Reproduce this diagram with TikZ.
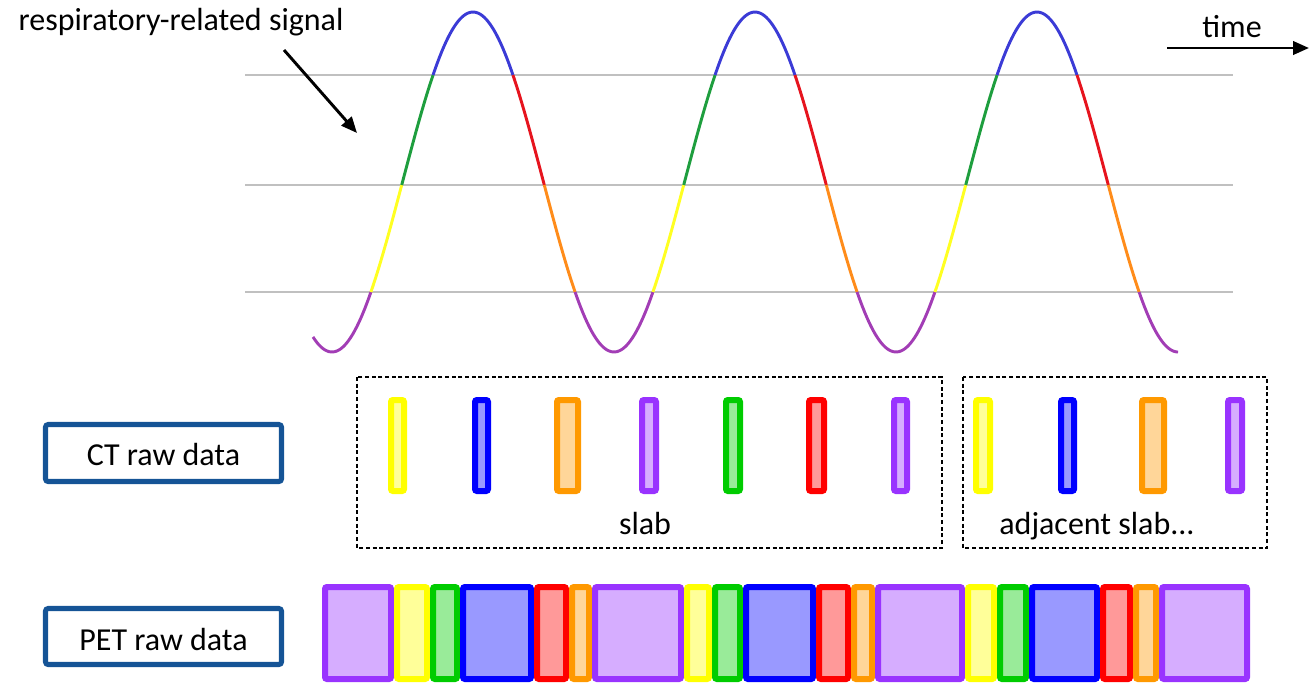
\documentclass[tikz,border=0pt]{standalone}
\usepackage{fontspec}
\setmainfont{Carlito}
\usetikzlibrary{arrows.meta}
\definecolor{Spu}{HTML}{9933FF}\definecolor{Fpu}{HTML}{D6ADFF}
\definecolor{Sye}{HTML}{FFFF00}\definecolor{Fye}{HTML}{FFFF99}
\definecolor{Sgr}{HTML}{00CC00}\definecolor{Fgr}{HTML}{99EB99}
\definecolor{Sbl}{HTML}{0000FF}\definecolor{Fbl}{HTML}{9999FF}
\definecolor{Sre}{HTML}{FF0000}\definecolor{Fre}{HTML}{FF9999}
\definecolor{Sor}{HTML}{FF9900}\definecolor{For}{HTML}{FFD699}
\definecolor{Cbl}{HTML}{3B3BD6}
\definecolor{Cgr}{HTML}{1E9E3E}
\definecolor{Cye}{HTML}{FFFF22}
\definecolor{Cre}{HTML}{E6141E}
\definecolor{Cor}{HTML}{FF8C1A}
\definecolor{Cpu}{HTML}{A23DB5}
\definecolor{boxblue}{RGB}{21,84,150}
\begin{document}
\begin{tikzpicture}[x=0.75pt,y=-0.75pt,
  txt/.style={font=\fontsize{24}{29}\selectfont, inner sep=0pt},
  gridline/.style={draw={rgb,255:red,192;green,192;blue,192}, line width=2.2pt},
  sig/.style={line width=2.2pt, line join=round},
  arr/.style={line width=2.2pt, -{Triangle[length=12pt,width=10pt]}},
  rawbox/.style={draw=boxblue, line width=3.8pt, rounded corners=2pt},
  dashbox/.style={draw=black, line width=1.1pt, dash pattern=on 3pt off 2pt},
  databar/.style={line width=4.5pt, rounded corners=1.5pt}]
\useasboundingbox (0,0) rectangle (1309,683);
% grid lines
\draw[gridline] (245,75) -- (1233,75);
\draw[gridline] (245,185) -- (1233,185);
\draw[gridline] (245,292) -- (1233,292);
% respiratory signal
\draw[sig, Cpu] plot[domain=-204.3:-130.32, samples=30, variable=\t] ({473+0.783333*\t}, {182-170*cos(\t)});
\foreach \k in {0,1,2}{
  \pgfmathsetmacro\ya{360*\k-130.32}
  \pgfmathsetmacro\yb{360*\k-91.01}
  \pgfmathsetmacro\gb{360*\k-51.0}
  \pgfmathsetmacro\bb{360*\k+51.0}
  \pgfmathsetmacro\rb{360*\k+91.01}
  \pgfmathsetmacro\ob{360*\k+130.32}
  \pgfmathsetmacro\pb{\k<2 ? 360*\k+229.68 : 360*\k+180}
  \draw[sig, Cye] plot[domain=\ya:\yb, samples=20, variable=\t] ({473+0.783333*\t}, {182-170*cos(\t)});
  \draw[sig, Cgr] plot[domain=\yb:\gb, samples=20, variable=\t] ({473+0.783333*\t}, {182-170*cos(\t)});
  \draw[sig, Cbl] plot[domain=\gb:\bb, samples=40, variable=\t] ({473+0.783333*\t}, {182-170*cos(\t)});
  \draw[sig, Cre] plot[domain=\bb:\rb, samples=20, variable=\t] ({473+0.783333*\t}, {182-170*cos(\t)});
  \draw[sig, Cor] plot[domain=\rb:\ob, samples=20, variable=\t] ({473+0.783333*\t}, {182-170*cos(\t)});
  \draw[sig, Cpu] plot[domain=\ob:\pb, samples=40, variable=\t] ({473+0.783333*\t}, {182-170*cos(\t)});
}
% labels and arrows
\node[txt, anchor=base] (rs) at (181,30) {respiratory-related signal};
\coordinate (sa) at (284,50);
\coordinate (sb) at (357,133);
\draw[arr] (sa) -- (sb);
\node[txt, anchor=base] (time) at (1232,37) {time};
\coordinate (ta) at (1167,48);
\coordinate (tb) at (1309,48);
\draw[arr] (ta) -- (tb);
% raw data boxes
\draw[rawbox] (45.5,424.5) rectangle (281.5,481.5);
\node[txt, anchor=base] (ct) at (163.5,465) {CT raw data};
\draw[rawbox] (45.5,608.5) rectangle (281.5,664.5);
\node[txt, anchor=base] (pet) at (163.5,650) {PET raw data};
% slabs
\draw[dashbox] (357,377) rectangle (942,548);
\draw[dashbox] (963,377) rectangle (1267,548);
\node[txt, anchor=base] (slab) at (645,534) {slab};
\node[txt, anchor=base] (adj) at (1097,534) {adjacent slab...};
\foreach \a/\b/\c in {388/407/ye,472/491/bl,554/581/or,639/659/pu,723/743/gr,806/827/re,891/910/pu,973/993/ye,1058/1077/bl,1139/1167/or,1225/1245/pu}
  \draw[databar, draw=S\c, fill=F\c] (\a+3,400) rectangle (\b-3,491);
% PET data
\foreach \a/\b/\c in {322/394/pu,394/430/ye,430/460/gr,460/534/bl,534/569/re,569/592/or,592/684/pu,684/712/ye,712/743/gr,743/816/bl,816/851/re,851/875/or,875/965/pu,965/997/ye,997/1029/gr,1029/1100/bl,1100/1133/re,1133/1159/or,1159/1250/pu}
  \draw[databar, draw=S\c, fill=F\c] (\a+3,587) rectangle (\b-3,679);
\end{tikzpicture}
\end{document}
